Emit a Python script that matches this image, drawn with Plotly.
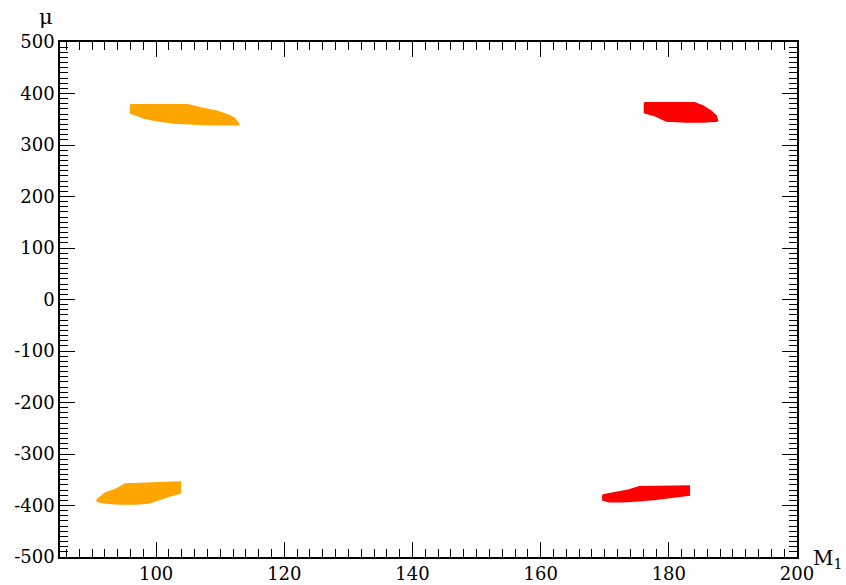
import plotly.graph_objects as go

# Allowed regions in the (M1, mu) plane, given as outline vertices (M1, mu)
orange_pos_m1 = [96.0, 104.9, 107.0, 109.5, 111.1, 112.2, 112.9, 112.9, 108.5, 105.4, 102.8, 100.2, 98.1, 96.0]
orange_pos_mu = [378.3, 378.3, 371.8, 365.4, 358.8, 352.4, 340.8, 339.4, 339.4, 340.8, 342.7, 347.2, 352.4, 362.1]

orange_neg_m1 = [90.8, 92.1, 93.6, 95.2, 103.8, 103.8, 102.0, 100.4, 98.8, 96.8, 94.2, 92.1, 90.8]
orange_neg_mu = [-388.7, -375.7, -369.3, -358.3, -354.4, -375.7, -382.1, -388.7, -395.1, -397.1, -397.1, -395.1, -391.8]

red_pos_m1 = [176.2, 184.0, 185.3, 186.6, 187.4, 187.6, 185.3, 182.7, 179.6, 178.0, 176.2]
red_pos_mu = [382.1, 382.1, 375.7, 366.0, 356.3, 346.6, 344.7, 344.7, 346.6, 356.3, 362.7]

red_neg_m1 = [169.7, 171.8, 173.8, 175.4, 183.2, 183.2, 180.6, 178.0, 175.4, 172.8, 170.7, 169.7]
red_neg_mu = [-379.6, -375.1, -369.9, -363.5, -362.1, -379.6, -384.1, -388.0, -390.7, -392.6, -392.6, -389.3]

x_tickvals = [100, 120, 140, 160, 180, 200]
x_ticktext = ["100", "120", "140", "160", "180", "200"]
y_tickvals = [500, 400, 300, 200, 100, 0, -100, -200, -300, -400, -500]
y_ticktext = ["500", "400", "300", "200", "100", "0", "-100", "-200", "-300", "-400", "-500"]

ORANGE = "#FFA500"
RED = "#FF0000"
FONT = "DejaVu Serif"

fig = go.Figure()
for xs, ys, col in [
    (orange_pos_m1, orange_pos_mu, ORANGE),
    (orange_neg_m1, orange_neg_mu, ORANGE),
    (red_pos_m1, red_pos_mu, RED),
    (red_neg_m1, red_neg_mu, RED),
]:
    fig.add_trace(go.Scatter(
        x=xs + xs[:1], y=ys + ys[:1], mode="lines", fill="toself",
        fillcolor=col, line=dict(color=col, width=1.5),
        hoverinfo="skip", showlegend=False,
    ))

axis_common = dict(
    showgrid=False, zeroline=False, showline=True, linecolor="black", linewidth=1.5,
    mirror="allticks", ticks="inside", ticklen=15, tickwidth=1, tickcolor="black",
    tickfont=dict(family=FONT, size=18, color="black"), automargin=False,
)

fig.update_xaxes(
    range=[85, 200], tickmode="array", tickvals=x_tickvals, ticktext=x_ticktext,
    minor=dict(ticks="inside", ticklen=8, dtick=2, tick0=0, tickcolor="black", tickwidth=1),
    **axis_common,
)
fig.update_yaxes(
    range=[-500, 500], tickmode="array", tickvals=y_tickvals, ticktext=y_ticktext,
    minor=dict(ticks="inside", ticklen=8, dtick=10, tick0=0, tickcolor="black", tickwidth=1),
    **axis_common,
)

fig.add_annotation(text="μ", xref="paper", yref="paper", x=-0.019, y=1.048,
                   xanchor="center", yanchor="middle",
                   showarrow=False, font=dict(family=FONT, size=21, color="black"))
fig.add_annotation(text="M<sub>1</sub>", xref="paper", yref="paper", x=1.019, y=-0.003,
                   xanchor="left", yanchor="middle",
                   showarrow=False, font=dict(family=FONT, size=20, color="black"))

fig.update_layout(
    width=846, height=585,
    margin=dict(l=60, r=49, t=42, b=28),
    paper_bgcolor="white", plot_bgcolor="white",
)

fig.write_html("out.html")
